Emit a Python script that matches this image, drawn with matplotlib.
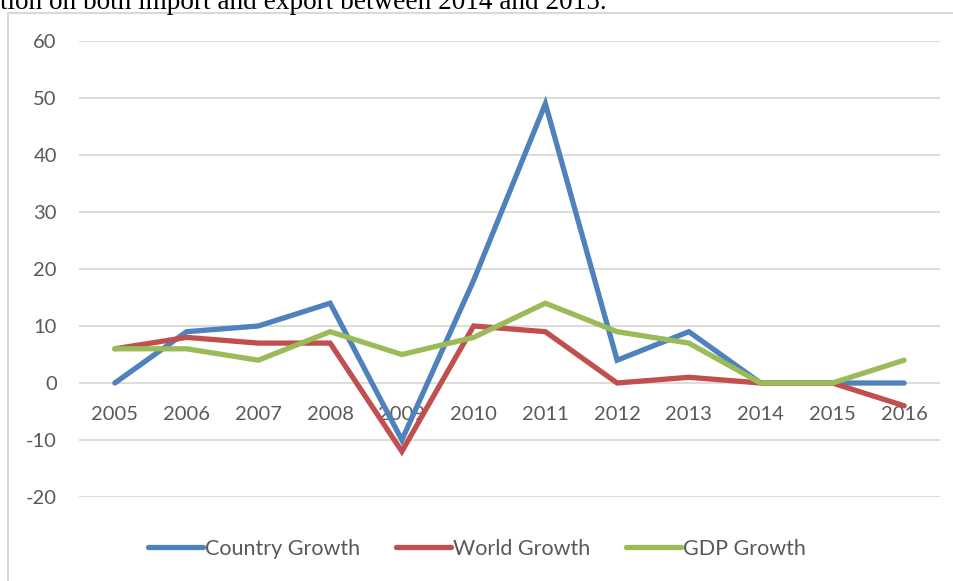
import matplotlib
matplotlib.use("Agg")
import matplotlib.pyplot as plt
from matplotlib.patches import Rectangle

years = ["2005", "2006", "2007", "2008", "2009", "2010", "2011", "2012", "2013", "2014", "2015", "2016"]
country_growth = [0, 9, 10, 14, -10, 18, 49, 4, 9, 0, 0, 0]
world_growth = [6, 8, 7, 7, -12, 10, 9, 0, 1, 0, 0, -4]
gdp_growth = [6, 6, 4, 9, 5, 8, 14, 9, 7, 0, 0, 4]
yticks = [-20, -10, 0, 10, 20, 30, 40, 50, 60]
series_names = ["Country Growth", "World Growth", "GDP Growth"]

W, H = 954, 581
fig = plt.figure(figsize=(W / 100, H / 100), dpi=100)
plt.rcParams['font.family'] = ['Lato', 'DejaVu Sans']
FS = 14.5

# chart frame
fig.patches.append(Rectangle((8 / W, -0.1), 1.2, (H - 13) / H + 0.1, transform=fig.transFigure,
                             fill=False, edgecolor='#D9D9D9', linewidth=1.5))
# cropped caption text at the top (cut off in the reference too)
fig.text(0 / W, 1 - 9 / H, "tion on both import and export between 2014 and 2015.",
         family=['Liberation Serif'], fontsize=19.6, color='black', va='baseline', ha='left')

ax = fig.add_axes([79 / W, 1 - 497 / H, (940 - 79) / W, (497 - 41) / H])
x = list(range(len(years)))
colors = ['#4F81BD', '#C0504D', '#9BBB59']
for vals, name, c in zip([country_growth, world_growth, gdp_growth], series_names, colors):
    ax.plot(x, vals, color=c, linewidth=3.8, label=name, solid_capstyle='round',
            solid_joinstyle='miter', zorder=3)

ax.set_xlim(-0.5, len(years) - 0.5)
ax.set_ylim(-20, 60)
ax.set_yticks(yticks)
ax.set_yticklabels([str(v) for v in yticks])
ax.tick_params(axis='y', length=0, pad=16, labelsize=FS, labelcolor='#595959')
ax.set_xticks([])
for yv in yticks:
    ax.axhline(yv, color='#D9D9D9', linewidth=1.3, zorder=1)
for s in ax.spines.values():
    s.set_visible(False)

for i, lab in enumerate(years):
    ax.annotate(lab, (i, 0), xytext=(0, -23), textcoords='offset points', ha='center', va='center',
                fontsize=FS, color='#595959', zorder=2)

leg = fig.legend(loc='center', bbox_to_anchor=(0.5, 1 - 549 / H), ncol=3, frameon=False,
                 fontsize=15.5, handlelength=2.55, handletextpad=0.1, columnspacing=1.65)
for t in leg.get_texts():
    t.set_color('#595959')

fig.savefig("out.png", dpi=100)
